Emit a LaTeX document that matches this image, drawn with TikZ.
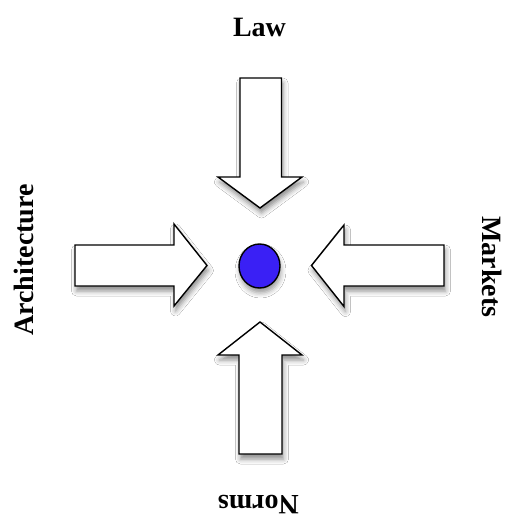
\documentclass[tikz,border=0pt]{standalone}
\usepackage{fontspec}
\setmainfont{Liberation Serif}
\usetikzlibrary{shadows.blur,shapes.geometric}
\definecolor{hubblue}{RGB}{58,32,245}
\begin{document}
\begin{tikzpicture}[x=1pt,y=-1pt,
  blockarrow/.style={draw=black, line width=1.4pt, fill=white, line join=miter,
    blur shadow={shadow xshift=1.5pt, shadow yshift=-5pt, shadow blur radius=5pt, shadow opacity=45}},
  hub/.style={ellipse, draw=black, line width=1.4pt, fill=hubblue,
    minimum width=41pt, minimum height=44pt, inner sep=0pt,
    blur shadow={shadow xshift=1pt, shadow yshift=-5pt, shadow blur radius=5pt, shadow opacity=40}},
  lbl/.style={font=\fontsize{28}{30}\selectfont\bfseries, inner sep=0pt, anchor=base}]
\path[fill=white] (0,0) rectangle (504,516);
\useasboundingbox (0,0) rectangle (504,516);
% top arrow (Law)
\path[blockarrow] (240,78) -- (281.5,78) -- (281.5,177) -- (302,177) -- (260,208) -- (218,177) -- (240,177) -- cycle;
% bottom arrow (Norms)
\path[blockarrow] (239,454) -- (282,454) -- (282,355) -- (302,355) -- (260,322) -- (218,355) -- (239,355) -- cycle;
% left arrow (Architecture)
\path[blockarrow] (75,245) -- (75,286) -- (174,286) -- (174,306) -- (207,265.5) -- (174,224) -- (174,245) -- cycle;
% right arrow (Markets)
\path[blockarrow] (444,245) -- (444,286) -- (344,286) -- (344,306.5) -- (311.5,265.5) -- (344,225) -- (344,245) -- cycle;
% centre
\node[hub] (c) at (259.5,266) {};
% labels
\node[lbl] (law) at (259.5,37) {Law};
\node[lbl, rotate=90] (arch) at (33,260) {Architecture};
\node[lbl, rotate=-90] (mkt) at (482,267) {Markets};
\node[lbl, rotate=180] (norms) at (258.5,495) {Norms};
\end{tikzpicture}
\end{document}
